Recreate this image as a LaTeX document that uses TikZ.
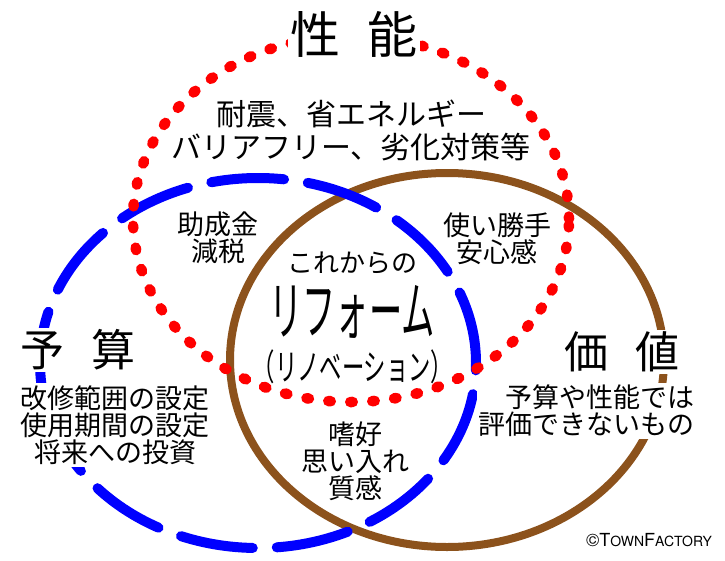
\documentclass[tikz,border=0pt]{standalone}
\usepackage{fontspec}
\setmainfont{Noto Sans CJK JP}
\newfontfamily\tffont{TeX Gyre Heros}
\usetikzlibrary{shapes,positioning}
\definecolor{perfred}{RGB}{255,0,0}
\definecolor{budgetblue}{RGB}{0,0,255}
\definecolor{valuebrown}{RGB}{140,82,28}
\newcommand{\tfsmall}[1]{{\fontsize{14pt}{14pt}\selectfont #1}}

\begin{document}
\begin{tikzpicture}[x=1pt,y=-1pt,
	title/.style={fill=white, inner sep=2pt, font=\fontsize{44pt}{44pt}\selectfont},
	body/.style={inner sep=2pt, align=center, font=\fontsize{27pt}{27pt}\selectfont}]
				\useasboundingbox (0,0) rectangle (725,560);

				\draw[valuebrown, line width=8pt] (447,360) ellipse [x radius=217pt, y radius=187pt];
				\draw[budgetblue, line width=10pt, line cap=round, dash pattern=on 73pt off 24pt] (258,363) ellipse [x radius=218pt, y radius=185pt];
				\draw[perfred, line width=10.5pt, line cap=round, dash pattern=on 2.5pt off 19.5pt] (351,219) ellipse [x radius=218pt, y radius=183pt];

				\node[title, font=\fontsize{50pt}{50pt}\selectfont] (Seino) at (354,34)			{性\hspace{0.55em}能};
				\node[title] (Yosan) at (78,350)													{予\hspace{0.6em}算};
				\node[title] (Kachi) at (622,352)												{価\hspace{0.6em}値};

				\node[body, font=\fontsize{30pt}{33pt}\selectfont] (SeinoList) at (351,130)		{耐震、省エネルギー\\バリアフリー、劣化対策等};
				\node[body, fill=white] (YosanList) at (115,425)									{改修範囲の設定\\使用期間の設定\\将来への投資};
				\node[body, fill=white, align=right, anchor=east] (KachiList) at (697,411)		{予算や性能では\\評価できないもの};
				\node[body] (Josei) at (218,238)													{助成金\\減税};
				\node[body] (Tsukai) at (497,239)												{使い勝手\\安心感};
				\node[body] (Shiko) at (355,461)													{嗜好\\思い入れ\\質感};

				\node[font=\fontsize{26pt}{26pt}\selectfont] (Korekara) at (352,263)				{これからの};
				\node[font=\fontsize{64pt}{64pt}\selectfont] (Reform) at (352,312)				{\scalebox{0.52}[1]{リフォーム}};
				\node[font=\fontsize{36pt}{36pt}\selectfont] (Renov) at (353,367)				{\scalebox{0.62}[1]{（リノベーション）}};

				\node[font=\tffont\fontsize{18pt}{18pt}\selectfont] (Copy) at (649,540)			{©T\tfsmall{OWN}F\tfsmall{ACTORY}};

			\end{tikzpicture}
\end{document}
